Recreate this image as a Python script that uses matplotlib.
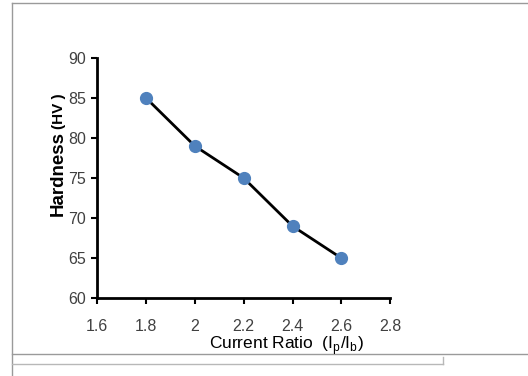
import matplotlib
matplotlib.use("Agg")
import matplotlib.pyplot as plt
from matplotlib.lines import Line2D

# data
ratio = [1.8, 2.0, 2.2, 2.4, 2.6]
hardness = [85, 79, 75, 69, 65]
xticks = [1.6, 1.8, 2.0, 2.2, 2.4, 2.6, 2.8]
xtick_labels = ['1.6', '1.8', '2', '2.2', '2.4', '2.6', '2.8']
yticks = [60, 65, 70, 75, 80, 85, 90]

plt.rcParams['font.family'] = ['Liberation Sans', 'DejaVu Sans']

fig = plt.figure(figsize=(5.28, 3.76), dpi=100)
ax = fig.add_axes([0.184, 0.207, 0.555, 0.639])

ax.plot(ratio, hardness, color='black', lw=2, zorder=2)
ax.plot(ratio, hardness, 'o', color='#4F81BD', markersize=8.5, zorder=3)

ax.set_xlim(1.6, 2.8)
ax.set_ylim(60, 90)
ax.set_xticks(xticks)
ax.set_xticklabels(xtick_labels)
ax.set_yticks(yticks)

for s in ['top', 'right']:
    ax.spines[s].set_visible(False)
for s in ['left', 'bottom']:
    ax.spines[s].set_linewidth(2)
    ax.spines[s].set_color('black')
ax.tick_params(axis='both', direction='out', length=4, width=1.5, labelsize=11.5,
               labelcolor='#404040')
ax.tick_params(axis='x', pad=11)
ax.tick_params(axis='y', pad=4)

# axis titles
fig.text(0.543, 1 - 346/376, r'Current Ratio  (I$_\mathregular{p}$/I$_\mathregular{b}$)',
         ha='center', va='center', fontsize=12.5, color='black')
fig.text(0.11, 1 - 173/376, 'Hardness', rotation=90, ha='center', va='center',
         fontsize=13.5, fontweight='bold')
fig.text(0.112, 1 - 111/376, '(HV )', rotation=90, ha='center', va='center',
         fontsize=11, fontweight='bold')

# page frame lines around the chart
gray = '#9a9a9a'
fig.add_artist(Line2D([12/528, 12/528], [0, 1 - 3/376], color=gray, lw=1))
fig.add_artist(Line2D([12/528, 1], [1 - 3/376, 1 - 3/376], color=gray, lw=1))
fig.add_artist(Line2D([12/528, 1], [1 - 354/376, 1 - 354/376], color=gray, lw=1))
fig.add_artist(Line2D([12/528, 443/528], [1 - 364/376, 1 - 364/376], color='#b8b8b8', lw=1))
fig.add_artist(Line2D([443/528, 443/528], [1 - 357/376, 1 - 364/376], color='#b8b8b8', lw=1))

fig.savefig('out.png', dpi=100)
